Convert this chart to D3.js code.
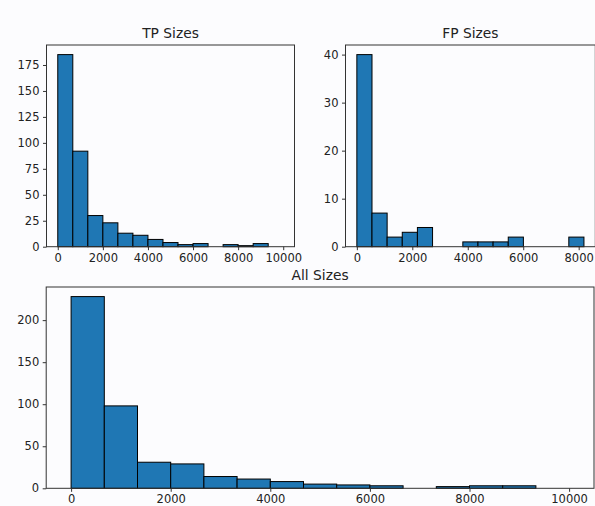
<!DOCTYPE html>
<html>
<head>
<meta charset="utf-8">
<script src="https://cdn.jsdelivr.net/npm/d3@7"></script>
<style>
  body { margin: 0; background: #fcfcfe; }
  svg { display: block; font-family: "DejaVu Sans", sans-serif; }
</style>
</head>
<body>
<figure id="hist" style="margin:0"></figure>
<script>
// histogram counts (15 bins each)
const tpCounts = [185, 92, 30, 23, 13, 11, 7, 4, 2, 3, 0, 2, 1, 3, 0];
const fpCounts = [40, 7, 2, 3, 4, 0, 0, 1, 1, 1, 2, 0, 0, 0, 2];
const allCounts = [228, 98, 31, 29, 14, 11, 8, 5, 4, 3, 0, 2, 3, 3, 0];

// value range covered by the bins
const tpRange = [0, 10000];
const fpRange = [0, 8190];
const allRange = [0, 10000];

// tick labels
const tpXTicks = [0, 2000, 4000, 6000, 8000, 10000];
const tpYTicks = [0, 25, 50, 75, 100, 125, 150, 175];
const fpXTicks = [0, 2000, 4000, 6000, 8000];
const fpYTicks = [0, 10, 20, 30, 40];
const allXTicks = [0, 2000, 4000, 6000, 8000, 10000];
const allYTicks = [0, 50, 100, 150, 200];

const width = 595, height = 506;

const svg = d3.select('figure#hist')
  .append('svg')
  .attr('width', width)
  .attr('height', height);

svg.append('rect').attr('width', width).attr('height', height).attr('fill', '#fcfcfe');

// panel boxes: left, top, right, bottom (pixels)
const panels = [
  { title: 'TP Sizes', counts: tpCounts, range: tpRange, xt: tpXTicks, yt: tpYTicks, box: [46.5, 45, 294.5, 246.7] },
  { title: 'FP Sizes', counts: fpCounts, range: fpRange, xt: fpXTicks, yt: fpYTicks, box: [345.5, 45, 595.3, 246.7] },
  { title: 'All Sizes', counts: allCounts, range: allRange, xt: allXTicks, yt: allYTicks, box: [46.2, 287, 594, 488.3] }
];

panels.forEach(drawPanel);

function drawPanel(p) {
  const [l, t, r, b] = p.box;
  const [lo, hi] = p.range;
  const n = p.counts.length;
  const span = hi - lo;

  const x = d3.scaleLinear()
    .domain([lo - 0.05 * span, hi + 0.05 * span])
    .range([l, r]);
  const y = d3.scaleLinear()
    .domain([0, d3.max(p.counts) * 1.05])
    .range([b, t]);

  const edges = d3.range(n + 1).map(i => lo + i * span / n);
  const bins = p.counts.map((c, i) => ({ x0: edges[i], x1: edges[i + 1], c: c }));

  const g = svg.append('g');

  g.selectAll('rect.bar')
    .data(bins.filter(d => d.c > 0))
    .enter()
    .append('rect')
    .attr('class', 'bar')
    .attr('x', d => x(d.x0))
    .attr('y', d => y(d.c))
    .attr('width', d => x(d.x1) - x(d.x0))
    .attr('height', d => y(0) - y(d.c))
    .attr('fill', '#1f77b4')
    .attr('stroke', '#000')
    .attr('stroke-width', 1);

  // x axis
  const xAxis = g.append('g')
    .attr('transform', 'translate(0,' + b + ')')
    .call(d3.axisBottom(x).tickValues(p.xt).tickFormat(d3.format('d')).tickSize(3.5).tickPadding(3.5));
  // y axis
  const yAxis = g.append('g')
    .attr('transform', 'translate(' + l + ',0)')
    .call(d3.axisLeft(y).tickValues(p.yt).tickFormat(d3.format('d')).tickSize(3.5).tickPadding(3.5));

  [xAxis, yAxis].forEach(a => {
    a.select('.domain').remove();
    a.selectAll('line').attr('stroke', '#333');
    a.selectAll('text').attr('fill', '#222').style('font-size', '11.5px').style('font-family', '"DejaVu Sans", sans-serif');
  });

  // frame
  g.append('rect')
    .attr('x', l).attr('y', t)
    .attr('width', r - l).attr('height', b - t)
    .attr('fill', 'none')
    .attr('stroke', '#333')
    .attr('stroke-width', 1);

  g.append('text')
    .attr('x', (l + r) / 2)
    .attr('y', t - 7.5)
    .attr('text-anchor', 'middle')
    .attr('fill', '#222')
    .style('font-size', '13.8px')
    .text(p.title);
}
</script>
</body>
</html>
